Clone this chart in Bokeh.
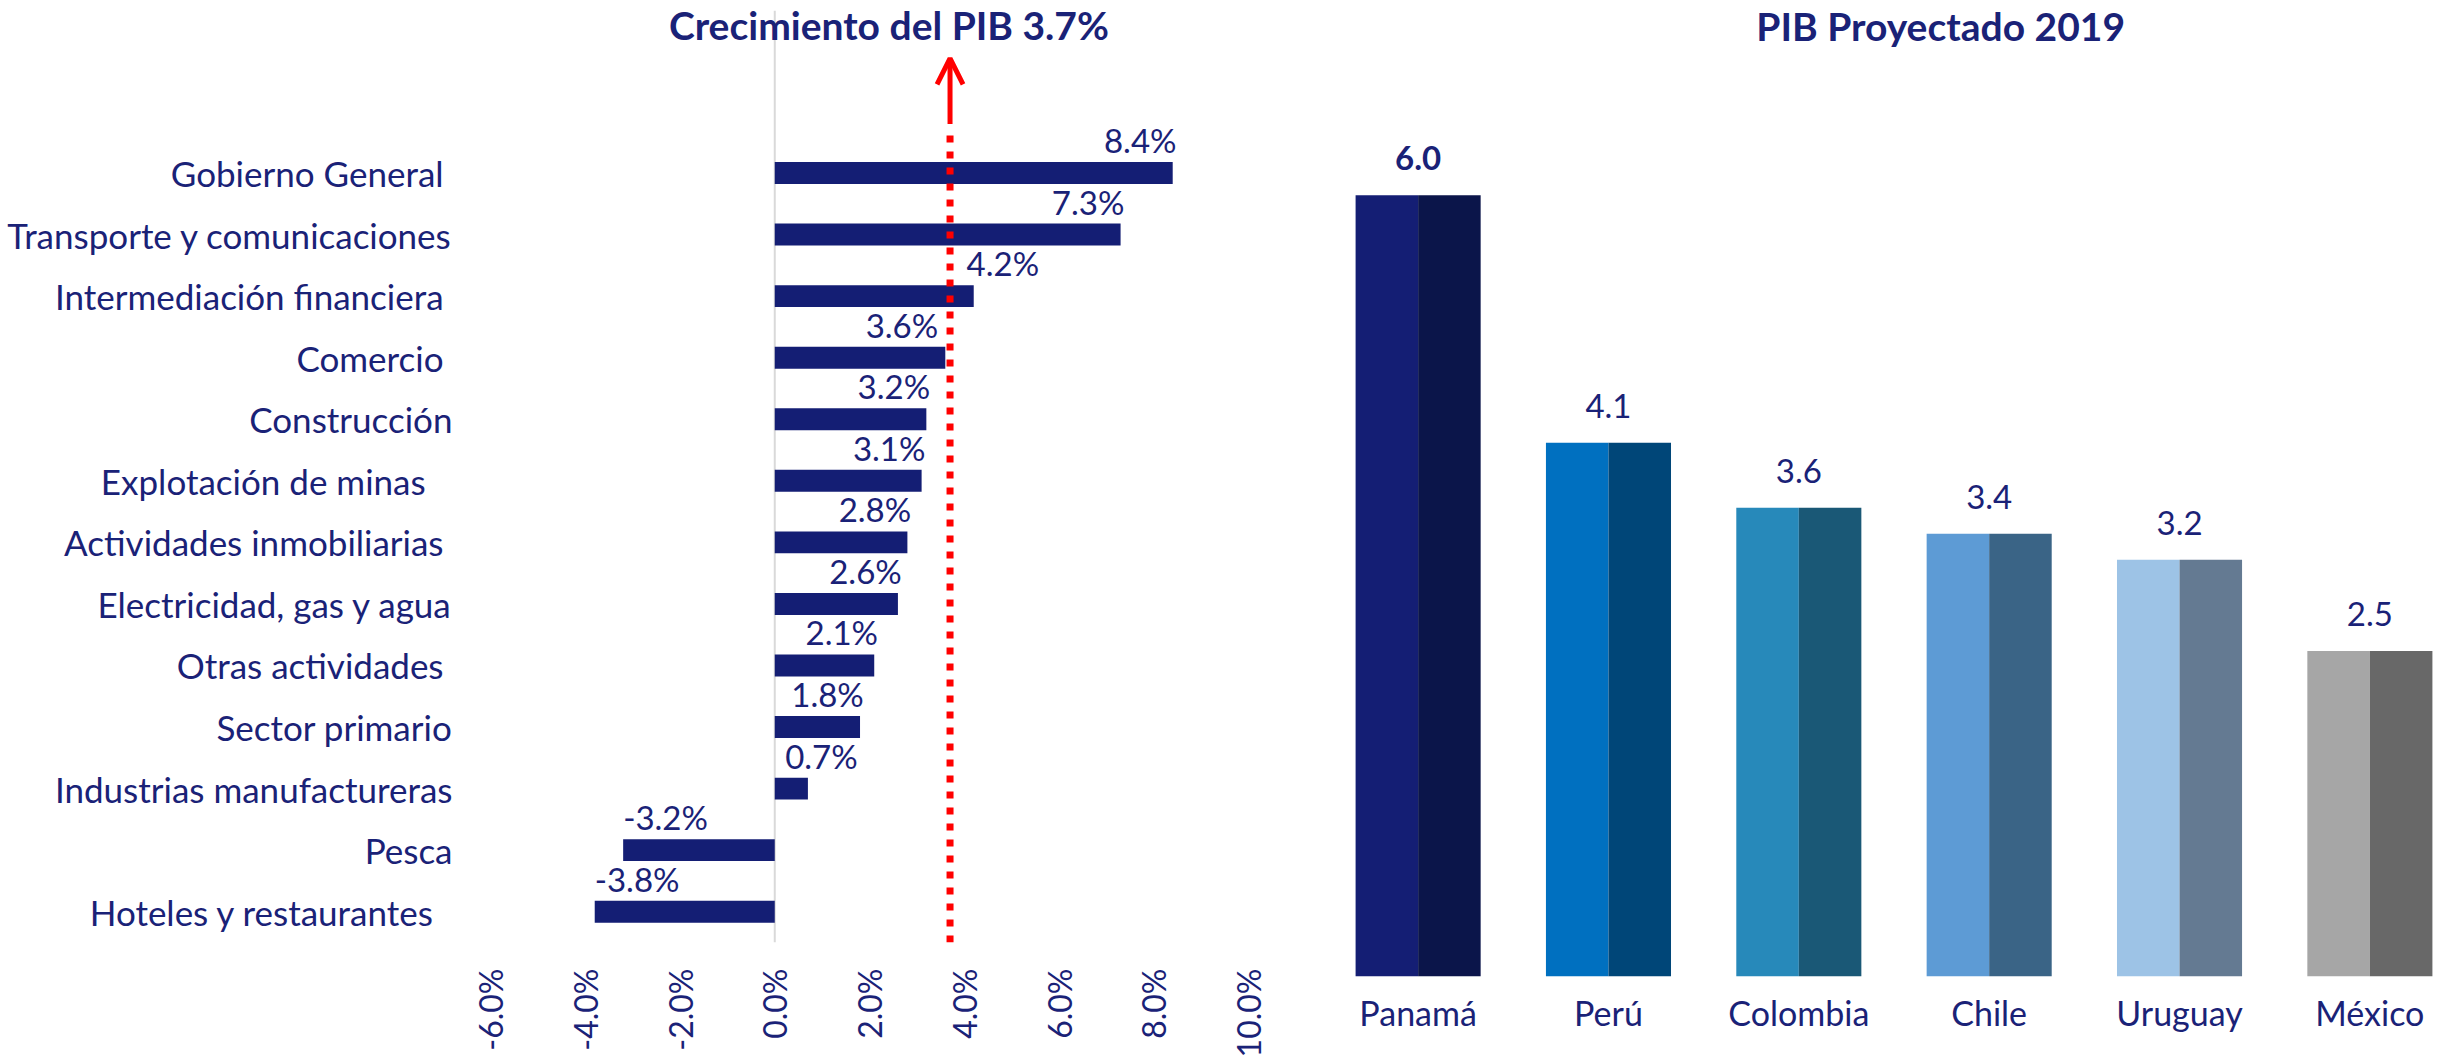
import math
from bokeh.plotting import figure
from bokeh.models import Range1d, FixedTicker, Label, Arrow, OpenHead, Span, ColumnDataSource
from bokeh.layouts import row
from bokeh.core.properties import value
from bokeh.embed import file_html
from bokeh.resources import INLINE

# ---------------- data ----------------
sectors = [
    "Gobierno General ",
    "Transporte y comunicaciones",
    "Intermediación  financiera",
    "Comercio ",
    "Construcción",
    "Explotación  de  minas ",
    "Actividades  inmobiliarias",
    "Electricidad, gas y agua",
    "Otras actividades ",
    "Sector primario",
    "Industrias manufactureras",
    "Pesca",
    "Hoteles  y  restaurantes",
]
growth = [8.4, 7.3, 4.2, 3.6, 3.2, 3.1, 2.8, 2.6, 2.1, 1.8, 0.7, -3.2, -3.8]
pib_growth_total = 3.7
x_ticks = [-6, -4, -2, 0, 2, 4, 6, 8, 10]
x_tick_labels = ["-6.0%", "-4.0%", "-2.0%", "0.0%", "2.0%", "4.0%", "6.0%", "8.0%", "10.0%"]
left_title = "Crecimiento del PIB 3.7%"

countries = ["Panamá", "Perú", "Colombia", "Chile", "Uruguay", "México"]
pib_2019 = [6.0, 4.1, 3.6, 3.4, 3.2, 2.5]
right_title = "PIB Proyectado 2019"

# ---------------- styles ----------------
FONT = "Lato"
NAVY = "#141E74"
TXT = "#1A2277"
RED = "#FF0000"
light_cols = ["#141E74", "#0070C0", "#2789BA", "#5D9BD5", "#9DC3E6", "#A6A6A6"]
dark_cols = ["#0B154A", "#004678", "#1A5876", "#3A6486", "#647A92", "#686868"]
H = 1060


def no_align(p):
    if "frame_align" in p.properties():
        p.frame_align = False


# ---------------- left chart ----------------
n = len(sectors)
ypos = [n - 1 - i for i in range(n)]
Y_TOP = 14.64
F1_TOP, F1_BOT = 10, 946
p1 = figure(width=1298, height=H, x_range=Range1d(-6, 10), y_range=Range1d(-0.5, Y_TOP),
            output_backend="svg", toolbar_location=None,
            min_border_left=490, min_border_right=50, min_border_top=F1_TOP,
            min_border_bottom=H - F1_BOT)
no_align(p1)
p1.outline_line_color = None
p1.grid.visible = False
PX1 = (F1_BOT - F1_TOP) / (Y_TOP + 0.5)  # px per category unit


def y1(page_y):
    return -0.5 + (F1_BOT - page_y) / PX1


zero = Span(location=0, dimension="height", line_color="#D9D9D9", line_width=2, level="underlay")
p1.add_layout(zero)

# value-label placement: at the bar end, moved aside where it would cross the red line
LAB_W = 1.54  # approx. label width in axis units
lab_x, lab_align = [], []
for v in growth:
    if v < 0:
        lab_x.append(v)
        lab_align.append("left")
        continue
    right = max(v + 0.08, 1.75)
    if right - LAB_W < pib_growth_total < right + 0.1:
        if v > pib_growth_total:
            lab_x.append(pib_growth_total + 0.35)
            lab_align.append("left")
        else:
            lab_x.append(pib_growth_total - 0.25)
            lab_align.append("right")
    else:
        lab_x.append(right)
        lab_align.append("right")

src1 = ColumnDataSource(dict(y=ypos, v=growth, lx=lab_x, al=lab_align,
                             lab=[f"{v:.1f}%" for v in growth]))
p1.hbar(y="y", left=0, right="v", height=0.356, source=src1, fill_color=NAVY, line_color=None)
p1.text(x="lx", y="y", text="lab", text_align="al", text_baseline="alphabetic", y_offset=-33,
        source=src1, text_font=value(FONT), text_font_size="33px", text_color=TXT)

p1.add_layout(Arrow(end=None, x_start=pib_growth_total, y_start=-0.5, x_end=pib_growth_total,
                    y_end=y1(133), line_color=RED, line_width=7, line_dash="7 9"))
p1.add_layout(Arrow(end=OpenHead(size=26, line_color=RED, line_width=5),
                    x_start=pib_growth_total, y_start=y1(124), x_end=pib_growth_total, y_end=y1(58),
                    line_color=RED, line_width=5))
p1.add_layout(Label(x=2.41, y=y1(25), text=left_title, text_font=FONT, text_font_size="39px",
                    text_font_style="bold", text_color=TXT, text_align="center",
                    text_baseline="alphabetic"))

xa = p1.xaxis[0]
xa.ticker = FixedTicker(ticks=x_ticks)
xa.major_label_overrides = dict(zip(x_ticks, x_tick_labels))
xa.major_label_orientation = math.pi / 2
xa.axis_line_color = None
xa.major_tick_line_color = None
xa.minor_tick_line_color = None
xa.major_tick_out = 0
xa.major_label_standoff = 26
xa.major_label_text_font = FONT
xa.major_label_text_font_size = "32px"
xa.major_label_text_color = TXT

ya = p1.yaxis[0]
ya.ticker = FixedTicker(ticks=ypos)
ya.major_label_overrides = dict(zip(ypos, sectors))
ya.axis_line_color = None
ya.major_tick_line_color = None
ya.minor_tick_line_color = None
ya.major_tick_out = 0
ya.major_label_standoff = 38
ya.major_label_text_font = FONT
ya.major_label_text_font_size = "35px"
ya.major_label_text_color = TXT

# ---------------- right chart ----------------
Y2_TOP = 7.419
F2_TOP, F2_BOT = 10, 976
p2 = figure(width=1150, height=H, x_range=Range1d(-0.35, 5.35), y_range=Range1d(0, Y2_TOP),
            output_backend="svg", toolbar_location=None,
            min_border_left=53, min_border_right=12, min_border_top=F2_TOP,
            min_border_bottom=H - F2_BOT)
no_align(p2)
p2.outline_line_color = None
p2.grid.visible = False
p2.yaxis.visible = False
PX2 = (F2_BOT - F2_TOP) / Y2_TOP


def y2(page_y):
    return (F2_BOT - page_y) / PX2


xi = list(range(len(countries)))
bw = 0.657
src2 = ColumnDataSource(dict(
    xl=[i - bw / 4 for i in xi], xr=[i + bw / 4 for i in xi], x=xi, top=pib_2019,
    cl=light_cols, cd=dark_cols, lab=[f"{v:.1f}" for v in pib_2019],
    st=["bold"] + ["normal"] * (len(xi) - 1)))
p2.vbar(x="xl", top="top", bottom=0, width=bw / 2, source=src2, fill_color="cl", line_color=None)
p2.vbar(x="xr", top="top", bottom=0, width=bw / 2, source=src2, fill_color="cd", line_color=None)
p2.text(x="x", y="top", text="lab", text_align="center", text_baseline="alphabetic", y_offset=-37,
        source=src2, text_font=value(FONT), text_font_size="33px", text_font_style="st",
        text_color=TXT)
p2.add_layout(Label(x=2.745, y=y2(25), text=right_title, text_font=FONT, text_font_size="39px",
                    text_font_style="bold", text_color=TXT, text_align="center",
                    text_baseline="alphabetic"))

xb = p2.xaxis[0]
xb.ticker = FixedTicker(ticks=xi)
xb.major_label_overrides = dict(zip(xi, countries))
xb.axis_line_color = None
xb.major_tick_line_color = None
xb.minor_tick_line_color = None
xb.major_tick_out = 0
xb.major_label_standoff = 15
xb.major_label_text_font = FONT
xb.major_label_text_font_size = "34px"
xb.major_label_text_color = TXT

layout = row(p1, p2)
open("out.html", "w").write(file_html(layout, INLINE))
